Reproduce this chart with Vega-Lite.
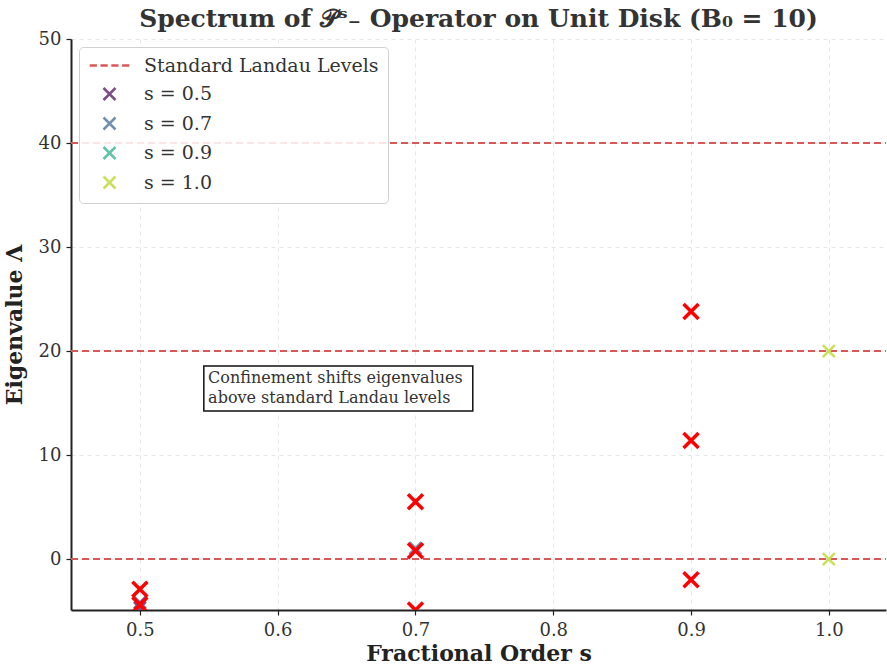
{
  "$schema": "https://vega.github.io/schema/vega-lite/v6.json",
  "width": 815,
  "height": 571,
  "autosize": {"type": "none"},
  "padding": {"left": 71, "top": 39, "right": 1, "bottom": 54},
  "background": "white",
  "config": {
    "view": {"stroke": null},
    "font": "DejaVu Serif",
    "axis": {
      "domainColor": "#222222",
      "domainWidth": 2,
      "tickColor": "#222222",
      "tickSize": 5,
      "tickWidth": 1.2,
      "labelFont": "DejaVu Serif",
      "labelFontSize": 18,
      "labelColor": "#333333",
      "titleFont": "DejaVu Serif",
      "titleFontSize": 22,
      "titleFontWeight": "bold",
      "titleColor": "#222222",
      "gridColor": "#e6e6e6",
      "gridDash": [4, 4],
      "gridWidth": 1
    },
    "title": {
      "font": "DejaVu Serif",
      "fontSize": 25,
      "fontWeight": "bold",
      "color": "#333333",
      "offset": -2,
      "frame": "group",
      "anchor": "middle"
    }
  },
  "title": "Spectrum of 𝒫ˢ₋ Operator on Unit Disk (B₀ = 10)",
  "datasets": {
    "levels": [
      {"level": 0, "series": "Standard Landau Levels"},
      {"level": 20, "series": "Standard Landau Levels"},
      {"level": 40, "series": "Standard Landau Levels"}
    ],
    "colored": [
      {"s": 0.5, "lambda": -4.2, "series": "s = 0.5"},
      {"s": 0.5, "lambda": -4.7, "series": "s = 0.5"},
      {"s": 0.7, "lambda": 1.05, "series": "s = 0.7"},
      {"s": 0.9, "lambda": 11.4, "series": "s = 0.9"},
      {"s": 1.0, "lambda": 20.0, "series": "s = 1.0"},
      {"s": 1.0, "lambda": 0.0, "series": "s = 1.0"}
    ],
    "confined": [
      {"s": 0.5, "lambda": -2.9},
      {"s": 0.5, "lambda": -4.4},
      {"s": 0.7, "lambda": 5.5},
      {"s": 0.7, "lambda": 0.8},
      {"s": 0.7, "lambda": -4.9},
      {"s": 0.9, "lambda": 23.8},
      {"s": 0.9, "lambda": 11.4},
      {"s": 0.9, "lambda": -2.0}
    ],
    "note": [
      {"x": 0.5464, "x2": 0.7416, "y": 18.56, "y2": 14.23, "tx": 0.5495, "ty": 17.4, "label": "Confinement shifts eigenvalues\nabove standard Landau levels"}
    ]
  },
  "encoding": {
    "x": {
      "field": "s",
      "type": "quantitative",
      "scale": {"domain": [0.45, 1.0415], "nice": false, "zero": false},
      "axis": {"values": [0.5, 0.6, 0.7, 0.8, 0.9, 1.0], "format": ".1f", "title": "Fractional Order s", "titlePadding": 4, "labelPadding": 6}
    }
  },
  "layer": [
    {
      "data": {"name": "levels"},
      "mark": {"type": "rule", "strokeDash": [7, 4], "strokeWidth": 2},
      "encoding": {
        "x": {"value": 0},
        "x2": {"value": 815},
        "y": {
          "field": "level",
          "type": "quantitative",
          "scale": {"domain": [-4.9, 50], "nice": false, "zero": false},
          "axis": {"values": [0, 10, 20, 30, 40, 50], "title": "Eigenvalue Λ", "titlePadding": 12, "labelPadding": 5}
        },
        "color": {
          "field": "series",
          "type": "nominal",
          "scale": {
            "domain": ["Standard Landau Levels", "s = 0.5", "s = 0.7", "s = 0.9", "s = 1.0"],
            "range": ["#d95757", "#7c4d87", "#728fb0", "#64c2a9", "#c9e05a"]
          },
          "legend": {
            "title": null,
            "orient": "top-left",
            "offset": 8,
            "labelFont": "DejaVu Serif",
            "labelFontSize": 19,
            "labelColor": "#333333",
            "labelLimit": 400,
            "symbolSize": 144,
            "symbolStrokeWidth": 2.5,
            "symbolOffset": 12,
            "labelOffset": 25,
            "rowPadding": 6.5,
            "padding": 9,
            "strokeColor": "#d0d0d0",
            "cornerRadius": 4,
            "fillColor": "rgba(255,255,255,0.85)"
          }
        }
      }
    },
    {
      "data": {"name": "colored"},
      "mark": {"type": "point", "filled": false, "strokeWidth": 2.5, "size": 144, "opacity": 1, "clip": true},
      "encoding": {
        "y": {"field": "lambda", "type": "quantitative"},
        "color": {"field": "series", "type": "nominal"},
        "shape": {
          "field": "series",
          "type": "nominal",
          "scale": {
            "domain": ["Standard Landau Levels", "s = 0.5", "s = 0.7", "s = 0.9", "s = 1.0"],
            "range": ["M-3.3,0H-2.1M-1.5,0H-0.3M0.3,0H1.5M2.1,0H3.3", "M-1,-1L1,1M-1,1L1,-1", "M-1,-1L1,1M-1,1L1,-1", "M-1,-1L1,1M-1,1L1,-1", "M-1,-1L1,1M-1,1L1,-1"]
          },
          "legend": {"title": null}
        }
      }
    },
    {
      "data": {"name": "confined"},
      "mark": {"type": "point", "filled": false, "shape": "M-1,-1L1,1M-1,1L1,-1", "color": "#ff0000", "strokeWidth": 3.5, "size": 225, "opacity": 1, "clip": true},
      "encoding": {
        "y": {"field": "lambda", "type": "quantitative"}
      }
    },
    {
      "data": {"name": "note"},
      "mark": {"type": "rect", "fill": "white", "stroke": "#111111", "strokeWidth": 1.5},
      "encoding": {
        "x": {"field": "x", "type": "quantitative"},
        "x2": {"field": "x2"},
        "y": {"field": "y", "type": "quantitative"},
        "y2": {"field": "y2"}
      }
    },
    {
      "data": {"name": "note"},
      "mark": {"type": "text", "align": "left", "baseline": "middle", "font": "DejaVu Serif", "fontSize": 16, "color": "#333333", "lineBreak": "\n", "lineHeight": 20},
      "encoding": {
        "x": {"field": "tx", "type": "quantitative"},
        "y": {"field": "ty", "type": "quantitative"},
        "text": {"field": "label"}
      }
    }
  ]
}
